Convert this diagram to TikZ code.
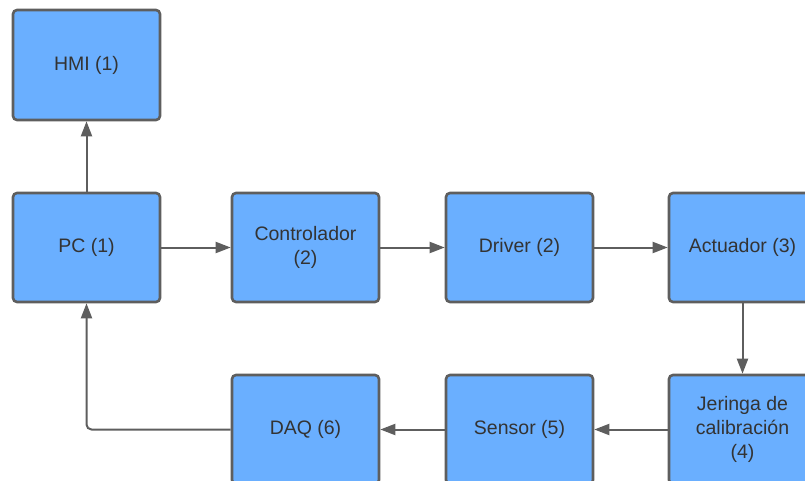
\documentclass[tikz,border=0pt]{standalone}
\usepackage{fontspec}
\setmainfont{Liberation Sans}
\usetikzlibrary{arrows.meta}
\definecolor{boxfill}{HTML}{6AAFFF}
\definecolor{boxline}{HTML}{5E5E5E}
\definecolor{txt}{HTML}{333333}
\tikzset{
  block/.style={draw=boxline, fill=boxfill, line width=2.6pt, rounded corners=4pt,
    minimum width=147pt, minimum height=109pt, align=center, text=txt,
    font=\fontsize{19.5pt}{24pt}\selectfont, inner sep=2pt},
  link/.style={draw=boxline, line width=2pt,
    -{Triangle[length=15pt,width=11pt]}}
}
\begin{document}
\begin{tikzpicture}[x=1pt,y=1pt]
  \useasboundingbox (0,0) rectangle (805,480);
  \clip (0,0) rectangle (805,480);
  % top row
  \node[block, minimum height=110pt] (hmi) at (86.5,415) {HMI (1)};
  \node[block] (pc)   at (86.5,232.5)  {PC (1)};
  \node[block] (ctrl) at (305.5,232.5) {Controlador\\(2)};
  \node[block] (drv)  at (519.5,232.5) {Driver (2)};
  \node[block] (act)  at (742.5,232.5) {Actuador (3)};
  % bottom row
  \node[block] (jer)  at (742.5,50.5) {Jeringa de\\calibración\\(4)};
  \node[block] (sen)  at (519.5,50.5) {Sensor (5)};
  \node[block] (daq)  at (305.5,50.5) {DAQ (6)};
  % signal flow
  \draw[link] (pc.north) -- (hmi.south);
  \draw[link] (pc.east) -- (ctrl.west);
  \draw[link] (ctrl.east) -- (drv.west);
  \draw[link] (drv.east) -- (act.west);
  \draw[link] (act.south) -- (jer.north);
  \draw[link] (jer.west) -- (sen.east);
  \draw[link] (sen.west) -- (daq.east);
  \draw[link, rounded corners=5pt] (daq.west) -| (pc.south);
\end{tikzpicture}
\end{document}
